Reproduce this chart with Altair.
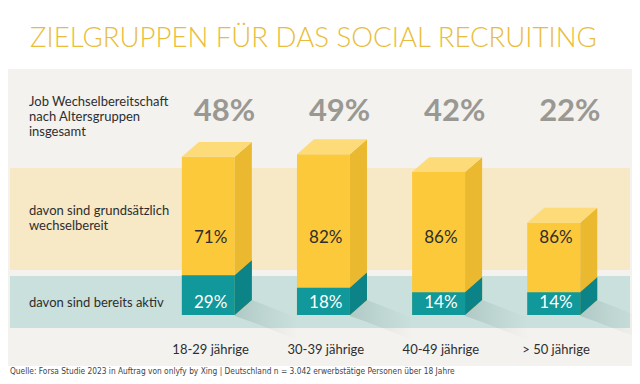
import altair as alt
import pandas as pd

# ---------------- data ----------------
categories = ["18-29 jährige", "30-39 jährige", "40-49 jährige", "> 50 jährige"]
total = [48, 49, 42, 22]          # Job-Wechselbereitschaft insgesamt (%)
willing = [71, 82, 86, 86]        # davon grundsätzlich wechselbereit (%)
active = [29, 18, 14, 14]         # davon bereits aktiv (%)

title_text = "ZIELGRUPPEN FÜR DAS SOCIAL RECRUITING"
row_labels = [
    ["Job Wechselbereitschaft", "nach Altersgruppen", "insgesamt"],
    ["davon sind grundsätzlich", "wechselbereit"],
    ["davon sind bereits aktiv"],
]
source_text = ("Quelle: Forsa Studie 2023 in Auftrag von onlyfy by Xing | "
               "Deutschland n = 3.042 erwerbstätige Personen über 18 Jahre")

# ---------------- layout / style constants ----------------
W, H = 624, 368
XDOM = [-1.74, 3.68]
YDOM = [-38.4, 106.7]     # scale of the overall share
BASE = -14.3
TDOM = [-60.2, 265.5]     # scale of the active share segment
TBASE = -6.2
HALF = 0.23               # half width of front face (category units)
DX = 0.148                # depth offset x
DY = 5.9                  # depth offset y (overall scale units)
DYT = 13.3                # depth offset y (active scale units)
SHX = 0.40                # shadow reach (category units)

FONT = "Lato"
YEL, YEL_SIDE, YEL_TOP = "#FCC93A", "#EBB930", "#FDDB78"
TEAL, TEAL_SIDE = "#11989A", "#0B8387"
GREY_BG, BEIGE, TEAL_BAND = "#F3F2EE", "#F7E8C6", "#C9E0DC"

xs = alt.Scale(domain=XDOM, nice=False, zero=False)
ys = alt.Scale(domain=YDOM, nice=False, zero=False)
ts = alt.Scale(domain=TDOM, nice=False, zero=False)

idx = list(range(len(categories)))

front = pd.DataFrame({
    "bar": idx,
    "x0": [i - HALF for i in idx],
    "x1": [i + HALF for i in idx],
    "top": total,
    "base": [BASE] * len(idx),
    "total_lbl": [f"{v}%" for v in total],
    "willing_lbl": [f"{v}%" for v in willing],
    "active_lbl": [f"{v}%" for v in active],
    "cat": categories,
    "lx": [i + 0.14 for i in idx],
    "cx": [i + 0.02 for i in idx],
    "active": active,
    "tbase": [TBASE] * len(idx),
})

side_rows, top_rows, tside_rows, shadow_rows = [], [], [], []
for i in idx:
    side_rows.append({"bar": i, "x": i + HALF, "y": total[i], "y2": BASE})
    side_rows.append({"bar": i, "x": i + HALF + DX, "y": total[i] + DY, "y2": BASE + DY})
    top_rows.append({"bar": i, "y": total[i], "x": i - HALF, "x2": i + HALF})
    top_rows.append({"bar": i, "y": total[i] + DY, "x": i - HALF + DX, "x2": i + HALF + DX})
    tside_rows.append({"bar": i, "x": i + HALF, "y": active[i], "y2": TBASE})
    tside_rows.append({"bar": i, "x": i + HALF + DX, "y": active[i] + DYT, "y2": TBASE + DYT})
    shadow_rows.append({"bar": i, "x": i + HALF, "y": BASE, "y2": BASE - 0.4})
    shadow_rows.append({"bar": i, "x": i + HALF + DX, "y": BASE + DY, "y2": BASE - 2.8})
    shadow_rows.append({"bar": i, "x": i + HALF + DX + SHX, "y": BASE - 1.2, "y2": BASE - 9.9})
side = pd.DataFrame(side_rows)
topf = pd.DataFrame(top_rows)
tside = pd.DataFrame(tside_rows)
shadow = pd.DataFrame(shadow_rows)

one = pd.DataFrame({"a": [0]})

def rect(x, x2, y, y2, color):
    return alt.Chart(one).mark_rect(color=color).encode(
        x=alt.value(x), x2=alt.value(x2), y=alt.value(y), y2=alt.value(y2))

bg_grey = rect(0, W, 61, 358, GREY_BG)
band1 = rect(2, 622, 160, 262, BEIGE)
band2 = rect(2, 622, 268, 320, TEAL_BAND)

shadow_grad = alt.Gradient(
    gradient="linear",
    stops=[alt.GradientStop(color="rgba(40,70,70,0.15)", offset=0),
           alt.GradientStop(color="rgba(40,70,70,0.07)", offset=0.45),
           alt.GradientStop(color="rgba(40,70,70,0.0)", offset=1)],
    x1=0, x2=1, y1=0, y2=0)

bar_shadow = alt.Chart(shadow).mark_area(orient="vertical", color=shadow_grad).encode(
    x=alt.X("x:Q", scale=xs, axis=None),
    y=alt.Y("y:Q", scale=ys, axis=None), y2="y2",
    detail="bar:N")

bar_front = alt.Chart(front).mark_rect(color=YEL).encode(
    x=alt.X("x0:Q", scale=xs, axis=None), x2="x1",
    y=alt.Y("top:Q", scale=ys, axis=None), y2="base")

bar_side = alt.Chart(side).mark_area(orient="vertical", color=YEL_SIDE).encode(
    x=alt.X("x:Q", scale=xs, axis=None),
    y=alt.Y("y:Q", scale=ys, axis=None), y2="y2",
    detail="bar:N")

bar_top = alt.Chart(topf).mark_area(orient="horizontal", color=YEL_TOP).encode(
    y=alt.Y("y:Q", scale=ys, axis=None),
    x=alt.X("x:Q", scale=xs, axis=None), x2="x2",
    detail="bar:N")

teal_front = alt.Chart(front).mark_rect(color=TEAL).encode(
    x=alt.X("x0:Q", scale=xs, axis=None), x2="x1",
    y=alt.Y("active:Q", scale=ts, axis=None), y2="tbase")

teal_side = alt.Chart(tside).mark_area(orient="vertical", color=TEAL_SIDE).encode(
    x=alt.X("x:Q", scale=xs, axis=None),
    y=alt.Y("y:Q", scale=ts, axis=None), y2="y2",
    detail="bar:N")

total_txt = alt.Chart(front).mark_text(
    font=FONT, fontSize=31, fontWeight="bold", color="#9A9893", baseline="middle"
).encode(x=alt.X("lx:Q", scale=xs, axis=None), y=alt.value(104), text="total_lbl:N")

willing_txt = alt.Chart(front).mark_text(
    font=FONT, fontSize=17, color="#2E2E2E", baseline="middle"
).encode(x=alt.X("cx:Q", scale=xs, axis=None), y=alt.value(230), text="willing_lbl:N")

active_txt = alt.Chart(front).mark_text(
    font=FONT, fontSize=17, color="#FFFFFF", baseline="middle"
).encode(x=alt.X("cx:Q", scale=xs, axis=None), y=alt.value(295), text="active_lbl:N")

cat_txt = alt.Chart(front).mark_text(
    font=FONT, fontSize=13, color="#2E2E2E", baseline="middle"
).encode(x=alt.X("cx:Q", scale=xs, axis=None), y=alt.value(342), text="cat:N")

row_y = [[94, 109, 124], [203, 218], [295]]
lab_rows = []
for lines, ys_ in zip(row_labels, row_y):
    for t, yy in zip(lines, ys_):
        lab_rows.append({"t": t, "py": yy})
labs = pd.DataFrame(lab_rows)
row_txt = alt.Chart(labs).mark_text(
    font=FONT, fontSize=13, color="#2E2E2E", align="left", baseline="middle"
).encode(x=alt.value(21), y=alt.Y("py:Q", scale=None), text="t:N")

title = alt.Chart(pd.DataFrame({"t": [title_text]})).mark_text(
    font=FONT, fontSize=27.6, fontWeight=300, color="#E9BD3B", align="left", baseline="alphabetic"
).encode(x=alt.value(22), y=alt.value(39), text="t:N")

footer = alt.Chart(pd.DataFrame({"t": [source_text]})).mark_text(
    font="Liberation Sans Narrow, DejaVu Sans Condensed, Roboto Condensed, Roboto",
    fontSize=8.3, color="#444444", align="left", baseline="middle"
).encode(x=alt.value(2), y=alt.value(364), text="t:N")

chart = alt.layer(
    bg_grey, band1, band2, bar_shadow,
    bar_front, bar_side, bar_top, teal_front, teal_side,
    total_txt, willing_txt, active_txt, cat_txt, row_txt, title, footer
).resolve_scale(y="independent").properties(
    width=W, height=H, padding=0, background="#FFFFFF",
    autosize=alt.AutoSizeParams(type="none")
).configure_view(stroke=None)

chart.save("out.html", embed_options={"renderer": "svg", "actions": False})
